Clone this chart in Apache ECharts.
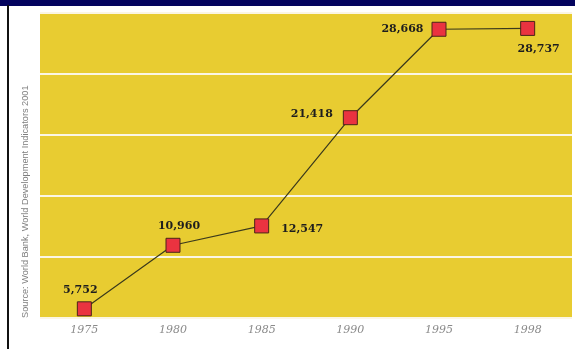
<!DOCTYPE html>
<html>
<head>
<meta charset="utf-8">
<script src="https://cdn.jsdelivr.net/npm/echarts@6/dist/echarts.min.js"></script>
<style>
  html, body { margin: 0; padding: 0; background: #fff; }
  #main { width: 575px; height: 349px; }
</style>
</head>
<body>
<div id="main"></div>
<script>
  var years = ['1975', '1980', '1985', '1990', '1995', '1998'];
  var values = [5752, 10960, 12547, 21418, 28668, 28737];
  var yMin = 5000, yMax = 30000, yStep = 5000;
  var sourceNote = 'Source: World Bank, World Development Indicators 2001';

  // where each value label sits relative to its marker
  var labelPlace = [
    { position: 'top', offset: [-4, 0] },
    { position: 'top', offset: [6, 0] },
    { position: 'right', offset: [6, 3] },
    { position: 'left', offset: [-4, -4] },
    { position: 'left', offset: [-2, 0] },
    { position: 'bottom', offset: [11, 2] }
  ];

  var myChart = echarts.init(document.getElementById('main'));

  var points = values.map(function (v, i) {
    return {
      value: v,
      label: {
        position: labelPlace[i].position,
        offset: labelPlace[i].offset
      }
    };
  });

  myChart.setOption({
    animation: false,
    grid: {
      left: 40,
      right: 3,
      top: 13,
      bottom: 31,
      show: true,
      backgroundColor: '#e8cc31',
      borderWidth: 0
    },
    graphic: [
      { type: 'rect', left: 0, top: 0, shape: { width: 575, height: 6 }, style: { fill: '#03035e' } },
      { type: 'rect', left: 7, top: 5, shape: { width: 2, height: 344 }, style: { fill: '#111' } },
      {
        type: 'text',
        x: 21, y: 318,
        rotation: Math.PI / 2,
        style: {
          text: sourceNote,
          fill: '#7e7e7e',
          font: '9.2px "Liberation Sans Narrow", "Liberation Sans", sans-serif'
        }
      }
    ],
    xAxis: {
      type: 'category',
      data: years,
      axisLine: { show: false },
      axisTick: { show: false },
      axisLabel: {
        margin: 7,
        color: '#8a8a8a',
        fontFamily: '"DejaVu Serif", serif',
        fontStyle: 'italic',
        fontSize: 11
      },
      splitLine: { show: false }
    },
    yAxis: {
      type: 'value',
      min: yMin,
      max: yMax,
      interval: yStep,
      axisLine: { show: false },
      axisTick: { show: false },
      axisLabel: { show: false },
      splitLine: { lineStyle: { color: '#fbf6e4', width: 2 } }
    },
    series: [{
      type: 'line',
      data: points,
      symbol: 'rect',
      symbolSize: 14,
      itemStyle: { color: '#ea3340', borderColor: '#4a2418', borderWidth: 1 },
      lineStyle: { color: '#3b3a1c', width: 1.2 },
      label: {
        show: true,
        distance: 6,
        color: '#1e1e1e',
        fontFamily: '"DejaVu Serif", serif',
        fontWeight: 'bold',
        fontSize: 11,
        formatter: function (p) {
          return p.value.toLocaleString('en-US');
        }
      }
    }]
  });
</script>
</body>
</html>
